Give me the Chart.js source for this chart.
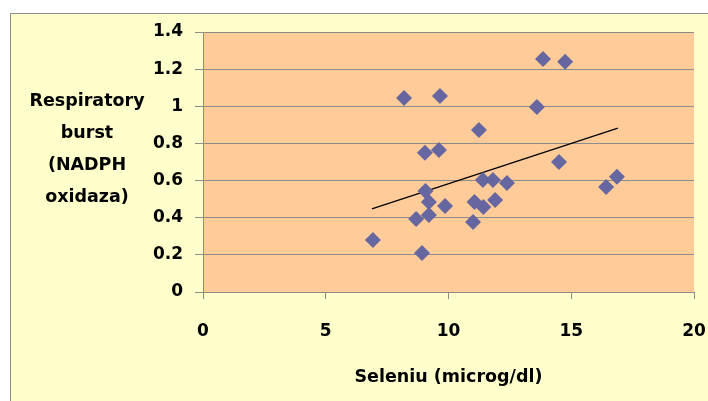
<!DOCTYPE html>
<html>
<head>
<meta charset="utf-8">
<script src="https://cdn.jsdelivr.net/npm/chart.js@4"></script>
<style>
  body { margin: 0; background: #ffffff; }
  #wrap {
    position: absolute; left: 10px; top: 13px;
    width: 698px; height: 388px;
    background: #FFFFCC;
    border-left: 1px solid #8c8c8c; border-top: 1px solid #8c8c8c;
  }
  canvas { display: block; }
</style>
</head>
<body>
<div id="wrap"><canvas id="chart" width="697" height="387"></canvas></div>
<script>
// Selenium (x) vs respiratory burst (y)
const seleniu = [6.92, 8.19, 9.65, 13.85, 14.75, 11.24, 13.6, 9.04, 9.61, 14.5, 16.42, 16.86, 11.4,
  11.81, 12.38, 9.86, 11.06, 11.42, 11.9, 11.0, 8.92, 8.68, 9.2, 9.06, 9.2];
const burst = [0.28, 1.045, 1.055, 1.255, 1.24, 0.872, 0.996, 0.75, 0.765, 0.70, 0.565, 0.62, 0.603,
  0.603, 0.587, 0.463, 0.485, 0.458, 0.495, 0.377, 0.21, 0.393, 0.415, 0.544, 0.485];
// trendline ends
const trendX = [6.88, 16.9];
const trendY = [0.447, 0.883];

const yTitleLines = ['Respiratory', 'burst', '(NADPH', 'oxidaza)'];
const xTitle = 'Seleniu (microg/dl)';

const FONT = '"DejaVu Sans", sans-serif';
const GRID = '#8c8c8c';

// plot area background + axis titles
const extras = {
  id: 'extras',
  beforeDraw(chart) {
    const { ctx, chartArea: a } = chart;
    ctx.save();
    ctx.fillStyle = '#FFCC99';
    ctx.fillRect(a.left, a.top, a.right - a.left, a.bottom - a.top);
    ctx.restore();
  },
  afterDraw(chart) {
    const ctx = chart.ctx;
    ctx.save();
    ctx.fillStyle = '#000';
    ctx.font = 'bold 17.5px ' + FONT;
    ctx.textAlign = 'center';
    ctx.textBaseline = 'middle';
    yTitleLines.forEach((t, i) => ctx.fillText(t, 76, 87 + i * 32.3));
    ctx.fillText(xTitle, (chart.chartArea.left + chart.chartArea.right) / 2, 363);
    ctx.restore();
  }
};

new Chart(document.getElementById('chart'), {
  type: 'scatter',
  data: {
    datasets: [
      {
        label: 'Respiratory burst',
        data: seleniu.map((x, i) => ({ x: x, y: burst[i] })),
        pointStyle: 'rectRot',
        pointRadius: 8,
        pointHoverRadius: 8,
        backgroundColor: '#6666A0',
        borderColor: '#6666A0',
        borderWidth: 0
      },
      {
        label: 'Trend',
        type: 'line',
        data: trendX.map((x, i) => ({ x: x, y: trendY[i] })),
        borderColor: '#000',
        borderWidth: 1.3,
        pointRadius: 0,
        fill: false
      }
    ]
  },
  options: {
    responsive: false,
    animation: false,
    events: [],
    layout: { padding: { top: 18, right: 14, left: 0, bottom: 0 } },
    plugins: { legend: { display: false }, tooltip: { enabled: false } },
    scales: {
      x: {
        type: 'linear',
        min: 0, max: 20,
        ticks: { stepSize: 5, color: '#000', font: { family: FONT, size: 17, weight: 'bold' }, padding: 22 },
        grid: { drawOnChartArea: false, drawTicks: true, tickLength: 7, color: GRID },
        border: { color: GRID },
        afterFit(s) { s.height = 109; s.paddingLeft = 0; s.paddingRight = 0; }
      },
      y: {
        min: 0, max: 1.4,
        ticks: { stepSize: 0.2, color: '#000', font: { family: FONT, size: 17, weight: 'bold' }, padding: 12,
          callback: v => Math.round(v * 10) / 10 },
        grid: { color: GRID, tickLength: 8 },
        border: { color: GRID },
        afterFit(s) { s.width = 192; s.paddingTop = 0; s.paddingBottom = 0; }
      }
    }
  },
  plugins: [extras]
});
</script>
</body>
</html>
